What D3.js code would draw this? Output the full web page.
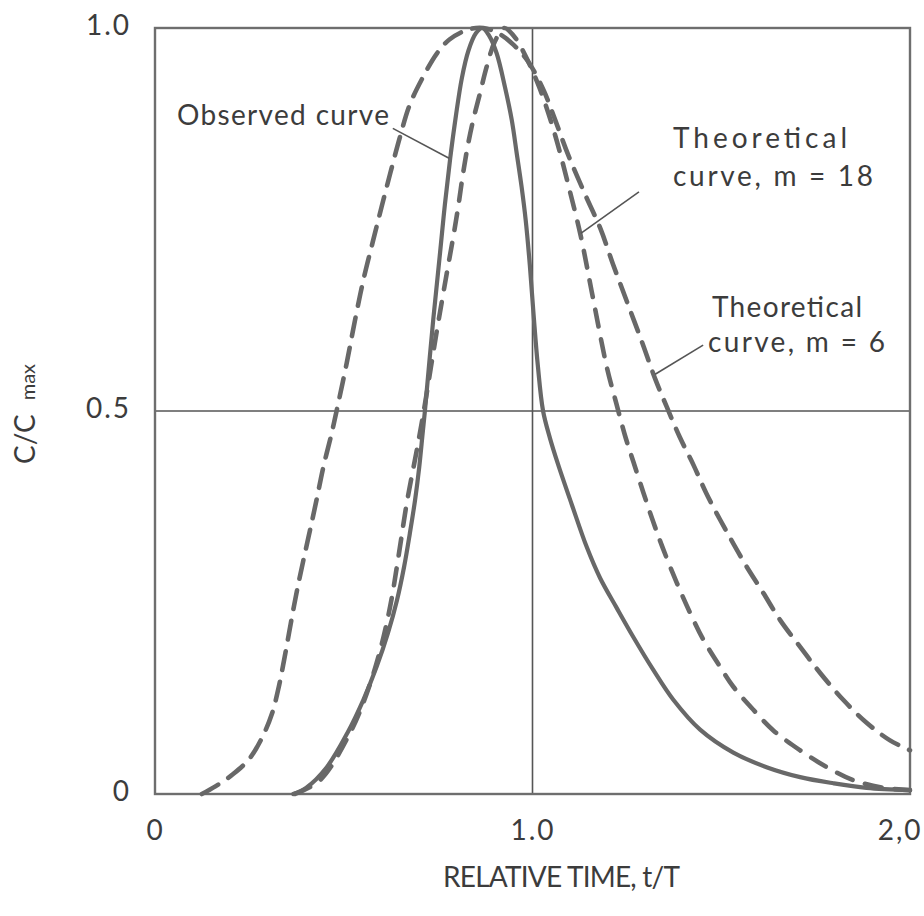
<!DOCTYPE html>
<html>
<head>
<meta charset="utf-8">
<script src="https://cdn.jsdelivr.net/npm/d3@7"></script>
<style>
  body { margin: 0; background: #fff; }
  svg text { font-family: Lato, "Liberation Sans", sans-serif; fill: #3c3c3c; }
</style>
</head>
<body>
<svg id="chart" width="924" height="916"></svg>
<script>
// Relative time t/T and normalised concentration C/Cmax for each curve
const tObserved = [0.366,0.40,0.455,0.51,0.552,0.587,0.617,0.641,0.66,0.675,0.689,0.70,0.709,0.715,0.737,0.755,0.768,0.782,0.797,0.813,0.83,0.85,0.867,0.885,0.905,0.927,0.945,0.958,0.971,0.982,0.993,1.003,1.014,1.028,1.046,1.068,1.104,1.144,1.179,1.223,1.267,1.32,1.373,1.444,1.532,1.62,1.709,1.797,1.885,2.0];
const cObserved = [0,0.008,0.035,0.08,0.123,0.166,0.21,0.253,0.297,0.34,0.384,0.427,0.471,0.5,0.619,0.706,0.77,0.83,0.885,0.935,0.97,0.993,1.0,0.99,0.967,0.923,0.88,0.837,0.793,0.749,0.69,0.625,0.56,0.5,0.465,0.43,0.378,0.322,0.282,0.243,0.205,0.162,0.123,0.084,0.054,0.035,0.022,0.014,0.008,0.005];

const tTheory18 = [0.37,0.437,0.517,0.56,0.595,0.623,0.645,0.667,0.692,0.712,0.745,0.773,0.79,0.803,0.816,0.83,0.843,0.861,0.879,0.90,0.925,0.95,0.98,1.02,1.06,1.10,1.128,1.16,1.197,1.222,1.245,1.267,1.294,1.32,1.346,1.382,1.417,1.452,1.497,1.532,1.585,1.638,1.709,1.78,1.85,1.93,2.0];
const cTheory18 = [0,0.018,0.08,0.13,0.185,0.245,0.31,0.38,0.445,0.5,0.6,0.68,0.727,0.766,0.81,0.85,0.88,0.915,0.95,0.982,1.0,0.99,0.965,0.92,0.86,0.785,0.728,0.648,0.557,0.51,0.468,0.434,0.393,0.355,0.32,0.276,0.237,0.202,0.166,0.14,0.11,0.083,0.057,0.035,0.018,0.008,0.005];

const tTheory6 = [0.124,0.16,0.207,0.25,0.285,0.31,0.328,0.342,0.355,0.368,0.38,0.393,0.41,0.428,0.446,0.468,0.481,0.508,0.53,0.552,0.578,0.60,0.623,0.649,0.675,0.71,0.747,0.78,0.83,0.87,0.91,0.95,0.99,1.03,1.06,1.094,1.14,1.18,1.213,1.25,1.29,1.325,1.356,1.39,1.426,1.46,1.497,1.532,1.567,1.612,1.656,1.709,1.762,1.823,1.885,1.947,2.0];
const cTheory6 = [0,0.01,0.026,0.046,0.075,0.105,0.14,0.175,0.21,0.245,0.275,0.305,0.343,0.384,0.427,0.471,0.5,0.563,0.619,0.671,0.723,0.766,0.81,0.858,0.9,0.936,0.967,0.985,0.998,1.0,0.993,0.978,0.955,0.918,0.88,0.835,0.782,0.738,0.692,0.643,0.59,0.542,0.505,0.466,0.43,0.393,0.358,0.327,0.297,0.262,0.227,0.192,0.158,0.123,0.093,0.07,0.057];

// Axis ticks
const xTicks = [0, 1, 2];
const xTickLabels = ["0", "1.0", "2,0"];
const yTicks = [0, 0.5, 1];
const yTickLabels = ["0", "0.5", "1.0"];

// Callout text and the points (t, C/Cmax) their leader lines join
const calloutObserved = ["Observed curve"];
const leaderObserved = [[0.630, 0.869], [0.779, 0.830]];
const calloutTheory18 = ["Theoretical", "curve,  m = 18"];
const leaderTheory18 = [[1.282, 0.786], [1.128, 0.732]];
const calloutTheory6 = ["Theoretical", "curve, m = 6"];
const leaderTheory6 = [[1.452, 0.586], [1.325, 0.548]];

const svg = d3.select("#chart");
const plot = { left: 155, right: 910, top: 28, bottom: 794 };

const x = d3.scaleLinear().domain([0, 2]).range([plot.left, plot.right]);
const y = d3.scaleLinear().domain([0, 1]).range([plot.bottom, plot.top]);

const ink = "#3c3c3c";
const curveInk = "#686868";

// Reference lines at t/T = 1 and C/Cmax = 0.5
svg.append("line")
  .attr("x1", x(1)).attr("x2", x(1)).attr("y1", y(0)).attr("y2", y(1))
  .attr("stroke", "#555").attr("stroke-width", 1.6);
svg.append("line")
  .attr("x1", x(0)).attr("x2", x(2)).attr("y1", y(0.5)).attr("y2", y(0.5))
  .attr("stroke", "#555").attr("stroke-width", 1.6);

// Plot frame
svg.append("rect")
  .attr("x", x(0)).attr("y", y(1))
  .attr("width", x(2) - x(0)).attr("height", y(0) - y(1))
  .attr("fill", "none").attr("stroke", "#6e6e6e").attr("stroke-width", 2.4);

// Curves
const line = d3.line()
  .x(d => x(d[0])).y(d => y(Math.max(0, d[1])))
  .curve(d3.curveCatmullRom.alpha(0.5));

const series = [
  { t: tTheory6, c: cTheory6, dash: "19,12", width: 4.6 },
  { t: tTheory18, c: cTheory18, dash: "17,13", width: 4.6 },
  { t: tObserved, c: cObserved, dash: null, width: 4.2 }
];

series.forEach(s => {
  const path = svg.append("path")
    .datum(d3.zip(s.t, s.c))
    .attr("d", line)
    .attr("fill", "none")
    .attr("stroke", curveInk)
    .attr("stroke-width", s.width)
    .attr("stroke-linecap", "round")
    .attr("stroke-linejoin", "round");
  if (s.dash) path.attr("stroke-dasharray", s.dash);
});

// Axes
const yAxis = d3.axisLeft(y)
  .tickValues(yTicks)
  .tickFormat((d, i) => yTickLabels[i])
  .tickSize(0)
  .tickPadding(24);
const gy = svg.append("g").attr("transform", `translate(${plot.left},0)`).call(yAxis);
gy.select(".domain").remove();
gy.selectAll("text")
  .attr("font-size", 28).attr("fill", ink).attr("dy", "0.22em")
  .attr("letter-spacing", 2)
  .style("font-family", "Lato, 'Liberation Sans', sans-serif");

const xAxis = d3.axisBottom(x)
  .tickValues(xTicks)
  .tickFormat((d, i) => xTickLabels[i])
  .tickSize(0)
  .tickPadding(26);
const gx = svg.append("g").attr("transform", `translate(0,${plot.bottom})`).call(xAxis);
gx.select(".domain").remove();
gx.selectAll("text")
  .attr("font-size", 28).attr("fill", ink)
  .attr("letter-spacing", 2)
  .style("font-family", "Lato, 'Liberation Sans', sans-serif");
// keep the last tick label inside the page
gx.selectAll(".tick").filter(d => d === 2).select("text")
  .attr("text-anchor", "end").attr("dx", 12);

// Axis titles
svg.append("text")
  .attr("x", 443).attr("y", 887)
  .attr("font-size", 28)
  .attr("textLength", 237).attr("lengthAdjust", "spacing")
  .text("RELATIVE TIME, t/T");

const yTitle = svg.append("text")
  .attr("transform", "translate(35,414) rotate(-90)")
  .attr("text-anchor", "middle");
yTitle.append("tspan").attr("font-size", 28).text("C/C");
yTitle.append("tspan").attr("font-size", 20).attr("dx", 14).text("max");

// Callouts
function callout(lines, x0, y0, lineGap, widths, leader) {
  lines.forEach((txt, i) => {
    const tx = svg.append("text")
      .attr("x", x0[i]).attr("y", y0 + i * lineGap)
      .attr("font-size", 28)
      .text(txt);
    if (widths[i]) tx.attr("textLength", widths[i]).attr("lengthAdjust", "spacing");
  });
  svg.append("line")
    .attr("x1", x(leader[0][0])).attr("y1", y(leader[0][1]))
    .attr("x2", x(leader[1][0])).attr("y2", y(leader[1][1]))
    .attr("stroke", "#555").attr("stroke-width", 1.6);
}

callout(calloutObserved, [177], 125, 0, [212], leaderObserved);
callout(calloutTheory18, [673, 673], 148, 38, [174, 200], leaderTheory18);
callout(calloutTheory6, [712, 708], 317, 35, [150, 177], leaderTheory6);
</script>
</body>
</html>
